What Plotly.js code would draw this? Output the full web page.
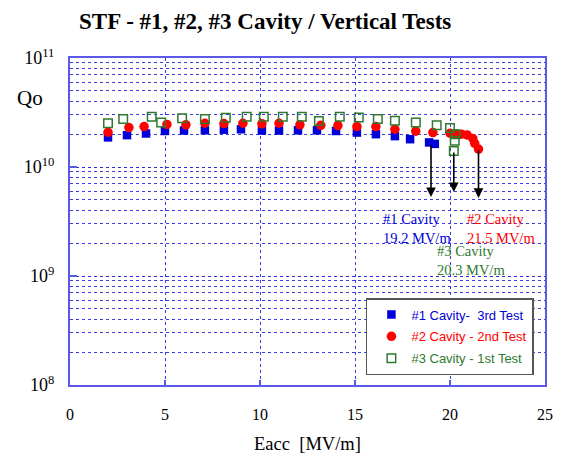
<!DOCTYPE html>
<html>
<head>
<meta charset="utf-8">
<script src="https://cdn.plot.ly/plotly-3.0.1.min.js"></script>
<style>html,body{margin:0;padding:0;background:#fff}#chart{width:574px;height:454px}</style>
</head>
<body>
<div id="chart"></div>
<script>
// Cavity #1 - 3rd test
const eacc1 = [2.0, 3.0, 4.0, 5.0, 6.0, 7.1, 8.1, 9.0, 10.1, 11.0, 12.0, 13.0, 14.0, 15.1, 16.1, 17.1, 17.9, 18.9, 19.2];
const qo1 = [1.87e10, 1.96e10, 2.03e10, 2.14e10, 2.16e10, 2.17e10, 2.20e10, 2.22e10, 2.16e10, 2.16e10, 2.17e10, 2.17e10, 2.14e10, 2.07e10, 2.00e10, 1.92e10, 1.80e10, 1.68e10, 1.63e10];
// Cavity #2 - 2nd test
const eacc2 = [2.0, 3.1, 3.9, 5.1, 6.1, 7.1, 8.1, 9.1, 10.1, 11.0, 12.1, 13.2, 14.1, 15.1, 16.1, 17.1, 18.2, 19.1, 20.0, 20.3, 20.6, 20.9, 21.2, 21.3, 21.5];
const qo2 = [2.08e10, 2.30e10, 2.35e10, 2.46e10, 2.44e10, 2.52e10, 2.50e10, 2.52e10, 2.49e10, 2.52e10, 2.44e10, 2.41e10, 2.40e10, 2.35e10, 2.35e10, 2.22e10, 2.13e10, 2.07e10, 2.04e10, 2.01e10, 2.00e10, 1.97e10, 1.83e10, 1.65e10, 1.46e10];
// Cavity #3 - 1st test
const eacc3 = [2.0, 2.8, 4.3, 4.8, 5.9, 7.1, 8.2, 9.3, 10.2, 11.2, 12.2, 13.1, 14.2, 15.2, 16.2, 17.1, 18.2, 19.3, 20.0, 20.3, 20.25, 20.2];
const qo3 = [2.52e10, 2.76e10, 2.89e10, 2.56e10, 2.80e10, 2.76e10, 2.83e10, 2.89e10, 2.89e10, 2.89e10, 2.89e10, 2.64e10, 2.89e10, 2.84e10, 2.76e10, 2.65e10, 2.56e10, 2.42e10, 2.28e10, 2.00e10, 1.74e10, 1.40e10];

const seriesNames = ['#1 Cavity-\u00a0 3rd Test', '#2 Cavity - 2nd Test', '#3 Cavity - 1st Test'];
const yTickVals = [1e8, 1e9, 1e10, 1e11];
const yTickText = ['10<sup>8</sup>', '10<sup>9</sup>', '10<sup>10</sup>', '10<sup>11</sup>'];
const xTickVals = [0, 5, 10, 15, 20, 25];
// quench limits: [Eacc, Qo at start, Qo at arrow end]
const limitE = [19.0, 21.5, 20.2];
const limitQStart = [1.63e10, 1.46e10, 1.40e10];
const limitQEnd = [5.3e9, 5.2e9, 5.9e9];
const limitLabels = ['#1 Cavity<br>19.2 MV/m', '#2 Cavity<br>21.5 MV/m', '#3 Cavity<br>20.3 MV/m'];

const cBlue = '#0000d8', cRed = '#ff0000', cGreen = '#2e7a2e';
const serif = 'Liberation Serif, Times New Roman, serif';
const sans = 'Liberation Sans, Arial, sans-serif';
const gridC = 'rgba(40,40,220,0.9)';
const frameC = '#5a5ae6';

const traces = [
  {x: eacc1, y: qo1, name: '<span style="color:' + cBlue + '">' + seriesNames[0] + '</span>', type: 'scatter', mode: 'markers', legendgroup: 'a',
   marker: {symbol: 'square', size: 8.5, color: cBlue}},
  {x: eacc2, y: qo2, name: '<span style="color:' + cRed + '">' + seriesNames[1] + '</span>', type: 'scatter', mode: 'markers', legendgroup: 'b',
   marker: {symbol: 'circle', size: 9.5, color: cRed}},
  {x: eacc3, y: qo3, name: '<span style="color:' + cGreen + '">' + seriesNames[2] + '</span>', type: 'scatter', mode: 'markers', legendgroup: 'c',
   marker: {symbol: 'square-open', size: 8.5, color: cGreen, line: {width: 1.5, color: cGreen}}}
];

const annotations = [];
const labelColors = [cBlue, cRed, cGreen];
for (let i = 0; i < 3; i++) {
  annotations.push({x: limitE[i], y: Math.log10(limitQEnd[i]), xref: 'x', yref: 'y',
    ax: limitE[i], ay: Math.log10(limitQStart[i]), axref: 'x', ayref: 'y',
    showarrow: true, arrowhead: 2, arrowsize: 1.2, arrowwidth: 1.6, arrowcolor: '#000', text: ''});
}
const labelX = [16.38, 20.8, 19.22];
const labelY = [9.44, 9.44, 9.142];
for (let i = 0; i < 3; i++) {
  annotations.push({x: labelX[i], y: labelY[i], xref: 'x', yref: 'y', xanchor: 'left', yanchor: 'middle', align: 'left',
    showarrow: false, text: limitLabels[i], font: {family: serif, size: 14.5, color: labelColors[i]}});
}
annotations.push({x: -0.084, y: 0.878, xref: 'paper', yref: 'paper', xanchor: 'center', yanchor: 'middle',
  showarrow: false, text: 'Qo', font: {family: serif, size: 21, color: '#000'}});

const layout = {
  width: 574, height: 454,
  margin: {l: 70, r: 29, t: 58, b: 69},
  paper_bgcolor: '#fff', plot_bgcolor: '#fff',
  showlegend: true,
  title: {text: '<b>STF - #1, #2, #3 Cavity / Vertical Tests</b>', x: 0.462, xref: 'container', xanchor: 'center',
    y: 0.954, yref: 'container', yanchor: 'middle', font: {family: serif, size: 23, color: '#000'}},
  xaxis: {range: [0, 25], tickvals: xTickVals, ticks: 'inside', ticklen: 5, tickcolor: frameC, tickwidth: 1.5,
    showline: true, linecolor: frameC, linewidth: 2, mirror: true, zeroline: false,
    showgrid: true, gridcolor: gridC, griddash: 'dot', gridwidth: 1,
    tickfont: {family: serif, size: 16, color: '#000'}, ticklabelstandoff: 14,
    title: {text: 'Eacc&nbsp; [MV/m]', font: {family: serif, size: 18.5, color: '#000'}, standoff: 22}},
  yaxis: {type: 'log', range: [8, 11], tickvals: yTickVals, ticktext: yTickText, ticks: 'inside', ticklen: 7,
    tickcolor: frameC, tickwidth: 1.5, showline: true, linecolor: frameC, linewidth: 2, mirror: true, zeroline: false,
    showgrid: true, gridcolor: gridC, griddash: 'dot', gridwidth: 1,
    minor: {dtick: 'D1', showgrid: true, gridcolor: gridC, griddash: 'dot', gridwidth: 1, ticks: ''},
    tickfont: {family: serif, size: 18, color: '#000'}, ticklabelstandoff: 10},
  legend: {x: 0.623, y: 0.266, xanchor: 'left', yanchor: 'top', bgcolor: '#fff', bordercolor: '#555', borderwidth: 1.5,
    font: {family: sans, size: 13, color: '#000'}, traceorder: 'grouped', tracegroupgap: 2, indentation: 4},
  annotations: annotations
};

Plotly.newPlot('chart', traces, layout, {displayModeBar: false, staticPlot: true});
</script>
</body>
</html>
